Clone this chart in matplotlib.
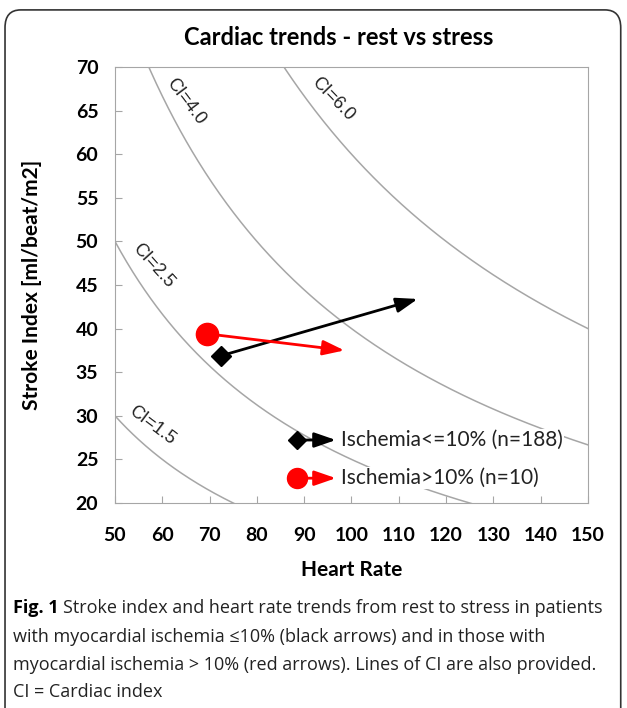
import numpy as np
import matplotlib
matplotlib.use("Agg")
import matplotlib.pyplot as plt
from matplotlib.patches import FancyBboxPatch

plt.rcParams["font.family"] = ["Lato", "DejaVu Sans"]

# ── data ─────────────────────────────────────────────────────────────────────
ci_levels = [1.5, 2.5, 4.0, 6.0]
ci_label_pos = [(57.8, 28.9), (58.0, 47.2), (65.0, 66.0), (96.0, 66.3)]
ci_label_rot = [-37, -48, -53, -46]
hr_rest = [72.5, 69.5]
si_rest = [36.9, 39.4]
hr_stress = [114.0, 98.5]
si_stress = [43.4, 37.5]
groups = ["Ischemia<=10% (n=188)", "Ischemia>10% (n=10)"]
colors = ["black", "#ff0000"]
markers = ["D", "o"]
msizes = [10, 16]

ARROW = "-|>,head_length=1.3,head_width=0.45"

fig = plt.figure(figsize=(6.27, 7.08), dpi=100)
ax = fig.add_axes([0.1834, 0.2895, 0.7544, 0.6159])

# CI iso-lines: SI = CI * 1000 / HR
hr = np.linspace(50, 150, 400)
for ci, (lx, ly), rot in zip(ci_levels, ci_label_pos, ci_label_rot):
    ax.plot(hr, ci * 1000 / hr, color="#a6a6a6", lw=1.1, zorder=1)
    ax.text(lx, ly, f"CI={ci:.1f}", rotation=rot, fontsize=13,
            family="Liberation Sans", ha="center", va="center",
            color="#222222", zorder=2)

# rest -> stress arrows
for i in range(2):
    ax.annotate("", xy=(hr_stress[i], si_stress[i]), xytext=(hr_rest[i], si_rest[i]),
                arrowprops=dict(arrowstyle=ARROW, color=colors[i], lw=2,
                                shrinkA=0, shrinkB=0), zorder=3)
    ax.plot(hr_rest[i], si_rest[i], marker=markers[i], color=colors[i],
            ms=msizes[i], zorder=4)

# legend drawn by hand
leg_y = [0.1445, 0.057]
for i, (lab, c) in enumerate(zip(groups, colors)):
    ly = leg_y[i]
    ax.annotate("", xy=(0.467, ly), xytext=(0.385, ly), xycoords="axes fraction",
                arrowprops=dict(arrowstyle=ARROW, color=c, lw=2,
                                shrinkA=0, shrinkB=0), zorder=5)
    ax.plot(0.385, ly, marker=markers[i], color=c, ms=msizes[i] * 0.9,
            transform=ax.transAxes, zorder=6, clip_on=False)
    ax.text(0.478, ly, lab, transform=ax.transAxes, fontsize=15,
            va="center", ha="left", color="#222222", zorder=6,
            bbox=dict(boxstyle="square,pad=0.05", fc="white", ec="none"))

ax.set_xlim(50, 150)
ax.set_ylim(20, 70)
ax.set_xticks(np.arange(50, 151, 10))
ax.set_yticks(np.arange(20, 71, 5))
ax.tick_params(direction="in", length=5, color="#a6a6a6", labelsize=14)
ax.tick_params(axis="x", pad=17)
ax.tick_params(axis="y", pad=12)
for t in ax.get_xticklabels() + ax.get_yticklabels():
    t.set_fontweight("bold")
for s in ax.spines.values():
    s.set_color("#a6a6a6")

ax.set_xlabel("Heart Rate", fontsize=15, fontweight="bold", labelpad=12)
ax.set_ylabel("Stroke Index [ml/beat/m2]", fontsize=15, fontweight="bold", labelpad=24)
fig.text(0.54, 0.947, "Cardiac trends - rest vs stress", fontsize=17,
         fontweight="bold", ha="center", va="center")

# caption
cap_fs = 13
cap_font = ["Open Sans", "DejaVu Sans"]
cap_y = [0.141, 0.100, 0.061, 0.023]
fig.text(0.02, cap_y[0], "Fig. 1", fontsize=cap_fs, fontweight="bold", va="center",
         family=cap_font)
fig.text(0.101, cap_y[0], "Stroke index and heart rate trends from rest to stress in patients",
         fontsize=cap_fs, va="center", color="#222222", family=cap_font)
fig.text(0.02, cap_y[1], "with myocardial ischemia \u226410% (black arrows) and in those with",
         fontsize=cap_fs, va="center", color="#222222", family=cap_font)
fig.text(0.02, cap_y[2], "myocardial ischemia > 10% (red arrows). Lines of CI are also provided.",
         fontsize=cap_fs, va="center", color="#222222", family=cap_font)
fig.text(0.02, cap_y[3], "CI = Cardiac index", fontsize=cap_fs, va="center",
         color="#222222", family=cap_font)

# rounded frame
fig.patches.append(FancyBboxPatch((0.008, -0.05), 0.982, 1.036,
                                  boxstyle="round,pad=0,rounding_size=0.025",
                                  transform=fig.transFigure, fc="none",
                                  ec="#333333", lw=1.2))

fig.savefig("out.png", dpi=100)
